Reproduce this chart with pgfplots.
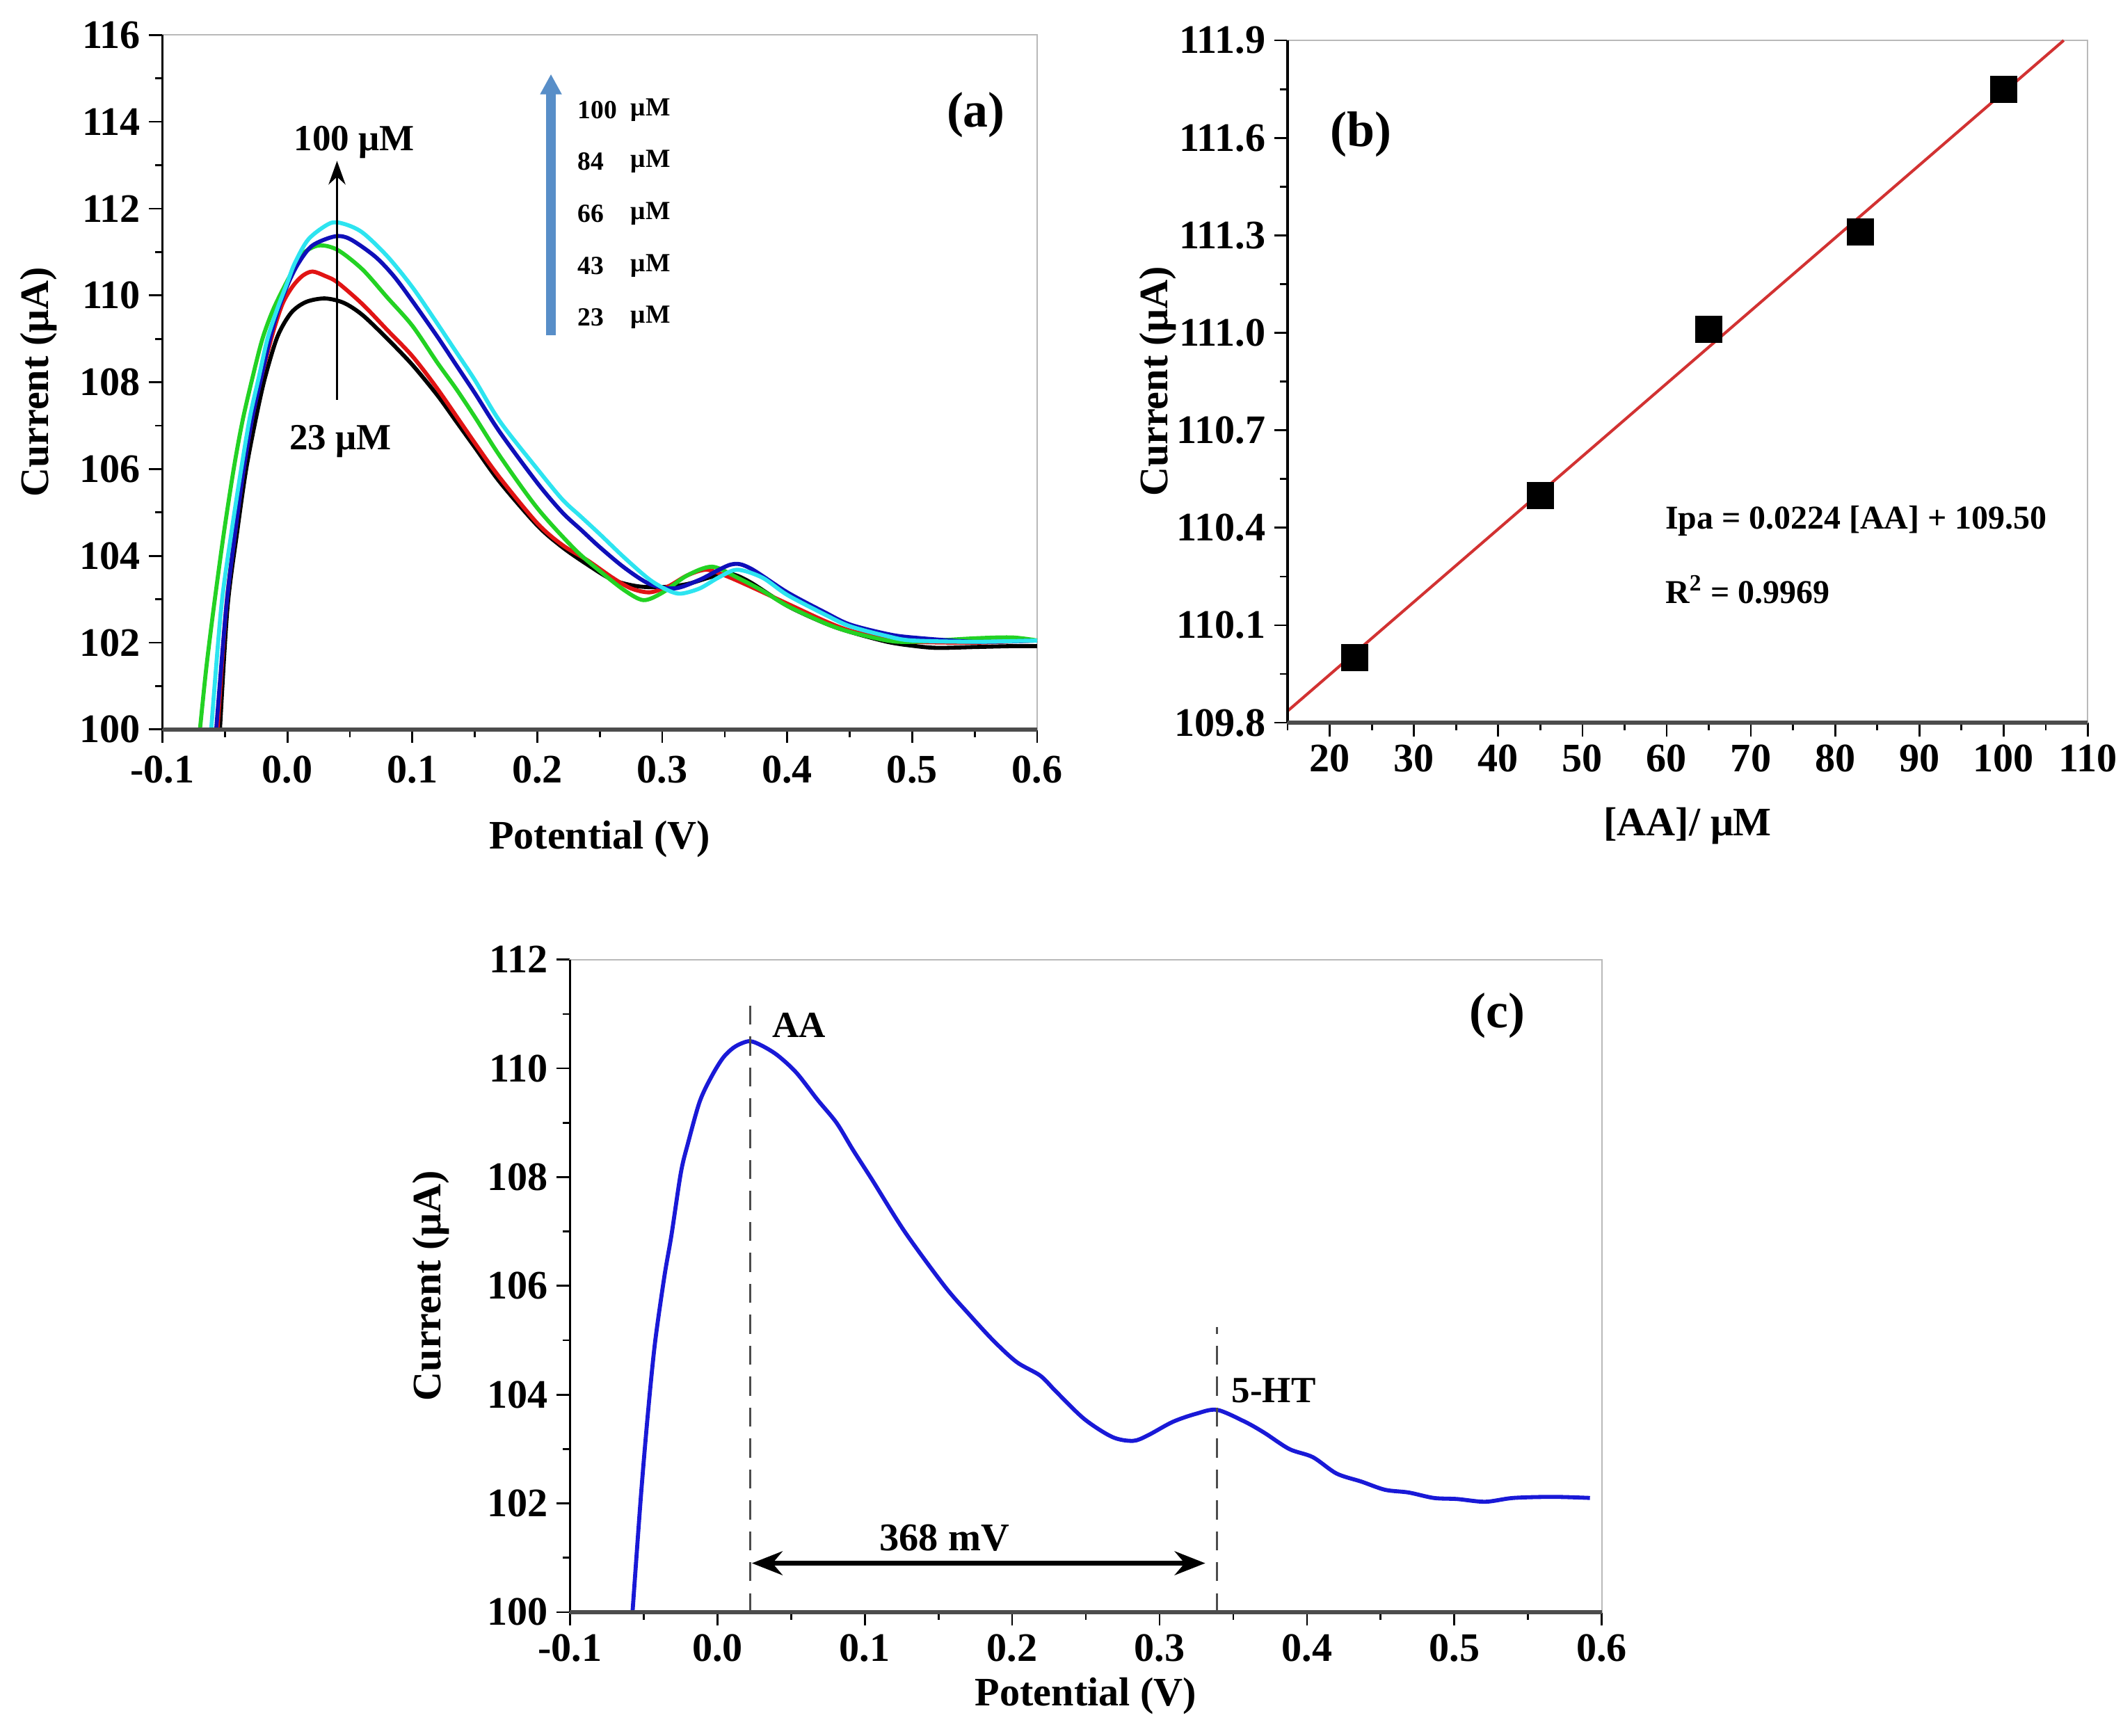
\documentclass[border=0pt]{standalone}
\usepackage{pgfplots}
\pgfplotsset{compat=1.18}
\usepackage{fontspec}
\setmainfont{Liberation Serif}
\usetikzlibrary{arrows.meta}

\definecolor{cRed}{RGB}{225,20,20}
\definecolor{cGreen}{RGB}{35,210,35}
\definecolor{cBlue}{RGB}{15,15,185}
\definecolor{cCyan}{RGB}{45,228,240}
\definecolor{cSteel}{RGB}{88,142,200}
\definecolor{cFit}{RGB}{210,50,50}
\definecolor{cLine}{RGB}{25,25,215}

\pgfplotsset{
 myax/.style={
  scale only axis,
  anchor=south west,
  axis line style={gray!55, line width=0.6pt},
  tick align=outside,
  tick pos=left,
  major tick length=0.2cm, minor tick length=0.11cm,
  tick style={black, line width=0.8pt},
  /pgf/number format/assume math mode=true,
  tick label style={font=\fontsize{17}{20}\selectfont\bfseries},
  label style={font=\fontsize{17}{20}\selectfont\bfseries},
  clip=false,
 },
 potx/.style={
  xmin=-0.1, xmax=0.6,
  xtick={-0.1,0,0.1,0.2,0.3,0.4,0.5,0.6},
  minor xtick={-0.05,0.05,0.15,0.25,0.35,0.45,0.55},
  xticklabel style={/pgf/number format/fixed, /pgf/number format/fixed zerofill, /pgf/number format/precision=1},
  xlabel={Potential (V)},
  ylabel={Current (μA)},
 },
}

\begin{document}
\begin{tikzpicture}
\useasboundingbox (0,0) rectangle (31.36cm,25.637cm);

% ---------------- (a) ----------------
\begin{axis}[myax, potx,
  at={(2.40cm,14.86cm)}, width=12.92cm, height=10.26cm,
  ymin=100, ymax=116,
  ytick={100,102,104,106,108,110,112,114,116},
  minor ytick={101,103,105,107,109,111,113,115},
  xticklabel style={yshift=-0.07cm},
  xlabel style={at={(axis description cs:0.5,-0.158)}, anchor=center},
  ylabel style={at={(axis description cs:-0.142,0.5)}, anchor=center},
]
\addplot[black, line width=1.7pt, smooth] coordinates {
(-0.054,100.0) (-0.048,102.8) (-0.040,104.6) (-0.033,106.0) (-0.025,107.2) (-0.018,108.1) (-0.008,109.05) (0.003,109.6) (0.015,109.85) (0.030,109.93) (0.045,109.83) (0.060,109.55) (0.080,109.0) (0.100,108.4) (0.120,107.7) (0.135,107.1) (0.150,106.5) (0.170,105.7) (0.200,104.7) (0.220,104.2) (0.240,103.8) (0.260,103.45) (0.280,103.3) (0.300,103.28) (0.320,103.35) (0.340,103.52) (0.355,103.58) (0.370,103.4) (0.400,102.85) (0.430,102.45) (0.450,102.25) (0.480,102.02) (0.500,101.93) (0.520,101.88) (0.550,101.9) (0.580,101.92) (0.600,101.92)};
\addplot[cRed, line width=1.7pt, smooth] coordinates {
(-0.056,100.0) (-0.049,102.8) (-0.042,104.5) (-0.035,106.0) (-0.028,107.2) (-0.021,108.1) (-0.012,109.1) (-0.004,109.8) (0.004,110.2) (0.012,110.45) (0.020,110.55) (0.030,110.45) (0.040,110.3) (0.060,109.8) (0.080,109.2) (0.100,108.6) (0.120,107.85) (0.150,106.6) (0.170,105.8) (0.200,104.75) (0.220,104.25) (0.240,103.9) (0.260,103.5) (0.275,103.25) (0.290,103.16) (0.305,103.3) (0.320,103.55) (0.335,103.68) (0.350,103.55) (0.370,103.3) (0.400,102.9) (0.430,102.5) (0.450,102.28) (0.480,102.08) (0.500,102.02) (0.550,102.0) (0.600,102.05)};
\addplot[cGreen, line width=1.7pt, smooth] coordinates {
(-0.070,100.0) (-0.065,101.4) (-0.059,102.8) (-0.051,104.5) (-0.043,106.0) (-0.036,107.1) (-0.028,108.1) (-0.020,109.0) (-0.011,109.7) (0.002,110.45) (0.012,110.95) (0.025,111.15) (0.040,111.05) (0.060,110.6) (0.080,109.95) (0.100,109.3) (0.120,108.45) (0.135,107.85) (0.150,107.2) (0.170,106.3) (0.200,105.1) (0.230,104.15) (0.250,103.65) (0.270,103.2) (0.285,102.98) (0.300,103.15) (0.320,103.55) (0.340,103.75) (0.360,103.5) (0.380,103.2) (0.400,102.85) (0.430,102.45) (0.450,102.25) (0.480,102.05) (0.500,102.02) (0.550,102.1) (0.580,102.12) (0.600,102.05)};
\addplot[cBlue, line width=1.7pt, smooth] coordinates {
(-0.057,100.0) (-0.049,102.8) (-0.042,104.5) (-0.035,106.0) (-0.028,107.2) (-0.021,108.1) (-0.014,109.0) (-0.007,109.7) (0.001,110.3) (0.009,110.75) (0.020,111.15) (0.038,111.36) (0.050,111.3) (0.070,110.9) (0.085,110.45) (0.100,109.87) (0.120,109.05) (0.135,108.4) (0.150,107.75) (0.170,106.85) (0.200,105.68) (0.220,105.0) (0.235,104.6) (0.250,104.2) (0.270,103.72) (0.290,103.35) (0.310,103.25) (0.330,103.45) (0.355,103.8) (0.370,103.72) (0.400,103.16) (0.430,102.7) (0.450,102.42) (0.480,102.2) (0.500,102.12) (0.550,102.02) (0.600,102.05)};
\addplot[cCyan, line width=1.7pt, smooth] coordinates {
(-0.061,100.0) (-0.053,102.8) (-0.045,104.5) (-0.037,106.0) (-0.030,107.2) (-0.023,108.1) (-0.016,109.0) (-0.008,109.7) (0.000,110.3) (0.006,110.75) (0.017,111.3) (0.034,111.66) (0.045,111.65) (0.060,111.45) (0.080,110.9) (0.100,110.19) (0.120,109.35) (0.135,108.7) (0.150,108.05) (0.170,107.1) (0.200,106.0) (0.220,105.3) (0.235,104.9) (0.250,104.5) (0.270,103.95) (0.290,103.45) (0.305,103.2) (0.315,103.13) (0.330,103.25) (0.345,103.5) (0.360,103.68) (0.380,103.5) (0.400,103.1) (0.430,102.65) (0.450,102.38) (0.480,102.15) (0.500,102.05) (0.550,102.02) (0.600,102.05)};
\draw[black, line width=1.0pt] (rel axis cs:0,1) -- (rel axis cs:0,0);
\draw[black!70, line width=1.8pt] (rel axis cs:0,0) -- (rel axis cs:1,0);
\draw[-{Stealth[length=0.35cm,width=0.25cm]}, line width=0.9pt] (axis cs:0.0397,107.6) -- (axis cs:0.0397,113.1);
\node[font=\fontsize{15.5}{18}\selectfont\bfseries] at (axis cs:0.0535,113.53) {100 μM};
\node[font=\fontsize{15.5}{18}\selectfont\bfseries] at (axis cs:0.0425,106.63) {23 μM};
\draw[cSteel, line width=3.9pt, -{Triangle[length=0.3cm,width=0.3cm]}] (axis cs:0.2109,109.09) -- (axis cs:0.2109,115.1);
\begin{scope}[every node/.style={font=\fontsize{11}{13}\selectfont\bfseries, anchor=west, inner sep=0pt}]
\node at (axis cs:0.2321,114.27) {100};
\node at (axis cs:0.2321,113.08) {84};
\node at (axis cs:0.2321,111.89) {66};
\node at (axis cs:0.2321,110.68) {43};
\node at (axis cs:0.2321,109.49) {23};
\node at (axis cs:0.2744,114.27) {μM};
\node at (axis cs:0.2744,113.08) {μM};
\node at (axis cs:0.2744,111.89) {μM};
\node at (axis cs:0.2744,110.68) {μM};
\node at (axis cs:0.2744,109.49) {μM};
\end{scope}
\node[font=\fontsize{21}{24}\selectfont\bfseries] at (axis cs:0.551,114.16) {(a)};
\end{axis}

% ---------------- (b) ----------------
\begin{axis}[myax,
  at={(19.02cm,14.96cm)}, width=11.82cm, height=10.08cm,
  xmin=15, xmax=110, ymin=109.8, ymax=111.9,
  xtick={20,30,40,50,60,70,80,90,100,110},
  minor xtick={15,25,35,45,55,65,75,85,95,105},
  ytick={109.8,110.1,110.4,110.7,111.0,111.3,111.6,111.9},
  minor ytick={109.95,110.25,110.55,110.85,111.15,111.45,111.75},
  yticklabel style={/pgf/number format/fixed, /pgf/number format/fixed zerofill, /pgf/number format/precision=1},
  xlabel={[AA]/ μM},
  ylabel={Current (μA)},
  xlabel style={at={(axis description cs:0.5,-0.151)}, anchor=center},
  ylabel style={at={(axis description cs:-0.162,0.5)}, anchor=center},
]
\addplot[cFit, line width=1.2pt] coordinates {(15,109.836) (107.14,111.9)};
\addplot[only marks, mark=square*, mark size=5.5pt, black] coordinates {
(23,110.00) (45,110.50) (65,111.01) (83,111.31) (100,111.75)};
\draw[black, line width=1.0pt] (rel axis cs:0,1) -- (rel axis cs:0,0);
\draw[black!70, line width=1.8pt] (rel axis cs:0,0) -- (rel axis cs:1,0);
\node[anchor=west, inner sep=0pt, font=\fontsize{14}{16}\selectfont\bfseries] at (axis cs:59.8,110.42) {Ipa = 0.0224 [AA] + 109.50};
\node[anchor=west, inner sep=0pt, font=\fontsize{14}{16}\selectfont\bfseries] at (axis cs:59.8,110.21) {R\textsuperscript{2} = 0.9969};
\node[font=\fontsize{21}{24}\selectfont\bfseries] at (axis cs:23.7,111.61) {(b)};
\end{axis}

% ---------------- (c) ----------------
\begin{axis}[myax, potx,
  at={(8.42cm,1.82cm)}, width=15.24cm, height=9.64cm,
  ymin=100, ymax=112,
  ytick={100,102,104,106,108,110,112},
  minor ytick={101,103,105,107,109,111},
  xlabel style={at={(axis description cs:0.5,-0.129)}, anchor=center},
  ylabel style={at={(axis description cs:-0.135,0.5)}, anchor=center},
]
\addplot[cLine, line width=1.7pt, smooth] coordinates {
(-0.0576,100.0) (-0.052,102.1) (-0.0472,103.64) (-0.0424,104.94) (-0.036,106.17) (-0.0312,106.93) (-0.0248,108.08) (-0.020,108.62) (-0.012,109.39) (-0.004,109.85) (0.004,110.2) (0.012,110.4) (0.0216,110.5) (0.030,110.42) (0.0408,110.24) (0.0536,109.92) (0.068,109.42) (0.0808,109.0) (0.092,108.5) (0.105,107.95) (0.127,107.0) (0.154,106.0) (0.170,105.5) (0.187,105.0) (0.203,104.6) (0.219,104.35) (0.230,104.05) (0.249,103.55) (0.268,103.22) (0.282,103.15) (0.292,103.25) (0.309,103.5) (0.325,103.65) (0.339,103.72) (0.358,103.5) (0.371,103.3) (0.388,103.0) (0.404,102.85) (0.420,102.55) (0.437,102.4) (0.453,102.25) (0.469,102.2) (0.486,102.1) (0.502,102.08) (0.521,102.03) (0.540,102.1) (0.567,102.12) (0.592,102.1)};
\draw[black, line width=1.0pt] (rel axis cs:0,1) -- (rel axis cs:0,0);
\draw[black!70, line width=1.8pt] (rel axis cs:0,0) -- (rel axis cs:1,0);
\draw[gray!60!black, line width=0.8pt, dash pattern=on 8pt off 5pt] (axis cs:0.0223,100) -- (axis cs:0.0223,111.27);
\draw[gray!60!black, line width=0.8pt, dash pattern=on 8pt off 5pt] (axis cs:0.3388,100) -- (axis cs:0.3388,105.24);
\node[anchor=west, inner sep=0pt, font=\fontsize{15.5}{18}\selectfont\bfseries] at (axis cs:0.037,110.8) {AA};
\node[anchor=west, inner sep=0pt, font=\fontsize{15.5}{18}\selectfont\bfseries] at (axis cs:0.3486,104.07) {5-HT};
\draw[{Stealth[length=0.45cm,width=0.35cm]}-{Stealth[length=0.45cm,width=0.35cm]}, line width=2.2pt] (axis cs:0.0234,100.9) -- (axis cs:0.331,100.9);
\node[font=\fontsize{16.5}{19}\selectfont\bfseries] at (axis cs:0.154,101.37) {368 mV};
\node[font=\fontsize{21}{24}\selectfont\bfseries] at (axis cs:0.529,110.97) {(c)};
\end{axis}
\end{tikzpicture}
\end{document}
